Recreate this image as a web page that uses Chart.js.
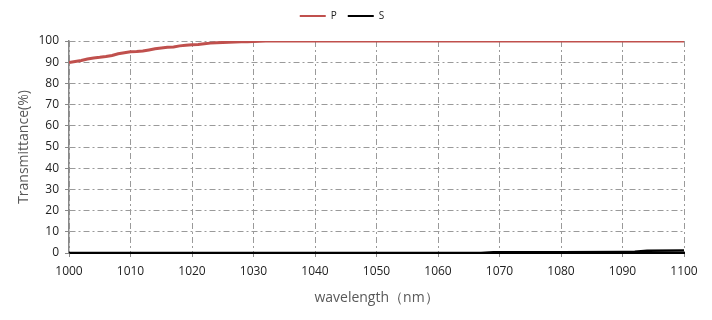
<!DOCTYPE html>
<html>
<head>
<meta charset="utf-8">
<script src="https://cdn.jsdelivr.net/npm/chart.js@4"></script>
<style>
  html, body { margin: 0; padding: 0; background: #fff; }
  #wrap { width: 712px; height: 320px; }
</style>
</head>
<body>
<div id="wrap"><canvas id="chart" width="712" height="320"></canvas></div>
<script>
// P curve
const pWavelength = [1000, 1001, 1002, 1003, 1004, 1005, 1006, 1007, 1008, 1009, 1010,
    1011, 1012, 1013, 1014, 1015, 1016, 1017, 1018, 1019, 1020, 1021, 1022, 1023, 1024,
    1025, 1026, 1027, 1028, 1029, 1030, 1032, 1040, 1060, 1080, 1100];
const pValues = [89.8, 90.3, 90.8, 91.5, 92, 92.3, 92.7, 93.2, 94, 94.5, 94.9,
    95, 95.3, 95.8, 96.3, 96.7, 97, 97.2, 97.7, 98, 98.2, 98.4, 98.7, 99, 99.2,
    99.3, 99.4, 99.5, 99.6, 99.7, 99.8, 100, 100, 100, 100, 100];

// S curve
const sWavelength = [1000, 1020, 1040, 1060, 1067, 1069, 1080, 1090, 1092, 1094, 1100];
const sValues = [0, 0, 0, 0, 0, 0.4, 0.4, 0.5, 0.6, 1.1, 1.2];

const yTicks = [0, 10, 20, 30, 40, 50, 60, 70, 80, 90, 100];

const toPoints = (xs, ys) => xs.map((x, i) => ({ x: x, y: ys[i] }));

const gridDash = [6, 3, 2, 3];
const tickFont = { family: 'Open Sans', size: 12 };

// keep the legend band the same height as in the picture
const legendBand = {
    id: 'legendBand',
    afterInit(chart) {
        const lg = chart.legend;
        const fit = lg.fit.bind(lg);
        lg.fit = function () { fit(); this.height = 41; };
    }
};

new Chart(document.getElementById('chart').getContext('2d'), {
    type: 'line',
    data: {
        datasets: [
            {
                label: 'P',
                data: toPoints(pWavelength, pValues),
                borderColor: '#c0504d',
                backgroundColor: '#c0504d',
                borderWidth: 3,
                pointRadius: 0,
                tension: 0
            },
            {
                label: 'S',
                data: toPoints(sWavelength, sValues),
                borderColor: '#000000',
                backgroundColor: '#000000',
                borderWidth: 2.5,
                pointRadius: 0,
                tension: 0
            }
        ]
    },
    plugins: [legendBand],
    options: {
        responsive: false,
        animation: false,
        layout: { padding: { left: 0, right: 28, top: 0, bottom: 0 } },
        plugins: {
            legend: {
                display: true,
                position: 'top',
                labels: {
                    usePointStyle: true,
                    pointStyle: 'line',
                    pointStyleWidth: 26,
                    font: { family: 'Open Sans', size: 10 },
                    color: '#222',
                    padding: 11,
                    generateLabels(chart) {
                        return Chart.defaults.plugins.legend.labels.generateLabels(chart)
                            .map(l => Object.assign(l, { lineWidth: 2 }));
                    }
                }
            },
            tooltip: { enabled: false }
        },
        scales: {
            x: {
                type: 'linear',
                min: 1000,
                max: 1100,
                afterFit: s => { s.height = 67; },
                ticks: {
                    stepSize: 10, color: '#222', font: tickFont, padding: 7,
                    callback: v => String(v)
                },
                grid: { color: '#9a9a9a', lineWidth: 1, tickLength: 4, tickColor: '#888' },
                border: { display: true, color: '#000', width: 2, dash: gridDash },
                title: {
                    display: true,
                    text: 'wavelength（nm）',
                    color: '#595959',
                    font: { family: 'Open Sans', size: 14 },
                    padding: { top: 3, bottom: 14 }
                }
            },
            y: {
                min: 0,
                max: 100,
                afterFit: s => { s.width = 69; },
                afterBuildTicks: s => { s.ticks = yTicks.map(v => ({ value: v })); },
                ticks: { color: '#222', font: tickFont, padding: 6 },
                grid: { color: '#9a9a9a', lineWidth: 1, tickLength: 4, tickColor: '#888' },
                border: { display: true, color: '#888', width: 1.5, dash: gridDash },
                title: {
                    display: true,
                    text: 'Transmittance(%)',
                    color: '#595959',
                    font: { family: 'Open Sans', size: 14 },
                    padding: { top: 16, bottom: 4 }
                }
            }
        }
    }
});
</script>
</body>
</html>
